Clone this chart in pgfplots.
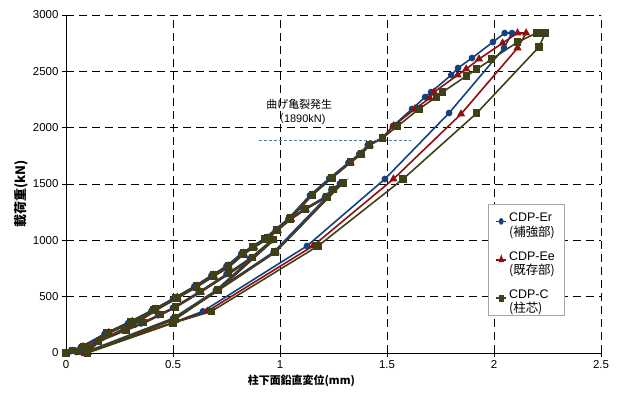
\documentclass[border=0pt]{standalone}
\usepackage{fontspec}
\setmainfont{Liberation Sans}
\newfontfamily\cjk{Noto Sans CJK JP}
\usepackage{pgfplots}
\pgfplotsset{compat=1.18}
\definecolor{cblue}{HTML}{13437F}
\definecolor{cred}{HTML}{8F0F0F}
\definecolor{colive}{HTML}{404018}
\definecolor{cline}{HTML}{4F7BB0}
\newcommand{\legtxt}[2]{\begin{tabular}{@{}l@{}}#1\\[0bp]{\cjk #2}\end{tabular}}
\begin{document}
\begin{tikzpicture}[x=1bp,y=1bp]
\useasboundingbox (0,0) rectangle (620,392);
\begin{axis}[
  at={(66bp,39bp)}, anchor=south west,
  scale only axis, width=535bp, height=338bp,
  xmin=0, xmax=2.5, ymin=0, ymax=3000,
  xtick={0,0.5,1,1.5,2,2.5}, ytick={0,500,1000,1500,2000,2500,3000},
  scaled y ticks=false,
  /pgf/number format/1000 sep={},
  /pgf/number format/assume math mode=true,
  axis x line*=bottom, axis y line*=left,
  axis line style={black, line width=0.8bp, -},
  grid=major,
  major grid style={black, line width=0.6bp, dash pattern=on 8bp off 5bp},
  tick align=outside, major tick length=4bp,
  tick style={black, line width=0.6bp},
  ticklabel style={font=\fontsize{11.5}{12}\selectfont},
  xlabel={\cjk\bfseries 柱下面鉛直変位(mm)},
  ylabel={\cjk\bfseries 載荷重(kN)},
  xlabel style={font=\fontsize{11}{12}\selectfont, at={(rel axis cs:0.44,0)}, anchor=north, yshift=-19bp},
  ylabel style={font=\fontsize{13}{14}\selectfont, at={(ticklabel cs:0.47)}, yshift=-2bp},
  legend style={at={(rel axis cs:0.789,0.441)}, anchor=north west,
    draw=gray!70, fill=white, font=\fontsize{12.5}{13.5}\selectfont,
    row sep=16bp, inner ysep=6bp, inner xsep=7bp},
  legend cell align=left,
  legend image post style={xscale=0.6},
  every axis plot/.append style={line width=1.6bp},
]
% CDP-Er
\addplot[cblue, mark=*, mark size=2.5bp, mark options={fill=cblue}] coordinates {
(0,0)(0.02,15)(0.07,55)(0.18,170)(0.29,265)(0.40,375)(0.50,482)
(0.30,245)(0.05,8)
(0.14,100)(0.27,200)(0.35,262)(0.43,335)(0.50,402)(0.62,540)(0.75,700)(0.86,840)(0.96,1000)
(0.70,555)(0.50,308)(0.09,8)
(0.19,175)(0.30,272)(0.41,380)(0.51,486)(0.60,584)(0.68,680)(0.75,760)(0.82,875)(0.87,938)(0.93,1010)(0.98,1090)(1.04,1185)(1.11,1275)(1.21,1385)(1.24,1450)(1.28,1505)
(0.97,896)(0.50,300)(0.09,8)
(0.19,180)(0.30,280)(0.41,388)(0.51,494)(0.60,592)(0.68,690)(0.75,772)(0.82,885)(0.93,1020)(1.04,1195)(1.14,1400)(1.23,1550)(1.32,1690)(1.37,1766)(1.41,1846)(1.477,1908)(1.528,2015)(1.617,2166)(1.678,2272)(1.706,2316)(1.80,2467)(1.832,2530)(1.897,2618)(1.995,2760)(2.05,2840)(2.084,2840)
(2.047,2707)(1.79,2130)(1.49,1544)(1.126,950)(0.64,370)(0.50,270)(0.08,0)
};
\addlegendentry{\legtxt{CDP-Er}{(補強部)}}
% CDP-Ee
\addplot[cred, mark=triangle*, mark size=3.2bp, mark options={fill=cred}] coordinates {
(0,0)(0.03,15)(0.08,55)(0.19,170)(0.30,265)(0.41,375)(0.51,482)
(0.31,245)(0.06,8)
(0.15,100)(0.28,200)(0.36,262)(0.44,335)(0.51,402)(0.63,540)(0.76,700)(0.87,840)(0.97,1000)
(0.71,555)(0.51,308)(0.10,8)
(0.20,175)(0.31,272)(0.42,380)(0.52,486)(0.61,584)(0.69,680)(0.76,760)(0.83,875)(0.88,938)(0.94,1010)(0.99,1090)(1.05,1185)(1.12,1275)(1.22,1385)(1.25,1450)(1.29,1505)
(0.98,896)(0.51,300)(0.10,8)
(0.20,180)(0.31,280)(0.42,388)(0.52,494)(0.61,592)(0.69,690)(0.76,772)(0.83,885)(0.94,1020)(1.05,1195)(1.15,1400)(1.24,1550)(1.33,1690)(1.38,1766)(1.42,1846)(1.48,1908)(1.53,2015)(1.63,2166)(1.70,2263)(1.72,2316)(1.83,2467)(1.87,2520)(1.93,2609)(2.04,2751)(2.11,2840)(2.15,2840)
(2.11,2707)(1.846,2121)(1.53,1544)(1.154,950)(0.66,370)(0.50,268)(0.09,0)
};
\addlegendentry{\legtxt{CDP-Ee}{(既存部)}}
% CDP-C
\addplot[colive, mark=square*, mark size=2.8bp, mark options={fill=colive}] coordinates {
(0,0)(0.03,20)(0.08,60)(0.19,178)(0.30,275)(0.41,382)(0.51,488)
(0.31,250)(0.06,10)
(0.15,105)(0.28,205)(0.36,268)(0.44,340)(0.51,408)(0.63,545)(0.76,705)(0.87,845)(0.97,1005)
(0.71,560)(0.51,310)(0.10,10)
(0.20,178)(0.31,275)(0.42,382)(0.52,488)(0.61,586)(0.69,683)(0.76,763)(0.83,879)(0.874,941)(0.93,1012)(0.986,1092)(1.047,1189)(1.117,1278)(1.22,1385)(1.248,1450)(1.294,1509)
(0.977,896)(0.51,302)(0.10,10)
(0.20,182)(0.31,282)(0.42,390)(0.52,496)(0.61,594)(0.69,692)(0.76,775)(0.83,888)(0.94,1022)(1.05,1198)(1.15,1402)(1.243,1553)(1.33,1695)(1.38,1766)(1.42,1846)(1.48,1908)(1.55,2015)(1.65,2166)(1.73,2272)(1.76,2316)(1.87,2458)(1.92,2520)(1.99,2609)(2.11,2760)(2.20,2840)(2.23,2840)(2.24,2840)
(2.21,2716)(1.92,2130)(1.575,1544)(1.178,950)(0.68,370)(0.50,266)(0.10,0)
};
\addlegendentry{\legtxt{CDP-C}{(柱芯)}}
% crack line
\addplot[cline, line width=0.6bp, dash pattern=on 3bp off 2bp, forget plot] coordinates {(0.90,1890)(1.61,1890)};
\node[font=\fontsize{11}{14.5}\selectfont, align=center] at (axis cs:1.09,2140) {{\cjk 曲げ亀裂発生}\\{\cjk （}1890kN)};
\end{axis}
\end{tikzpicture}
\end{document}
